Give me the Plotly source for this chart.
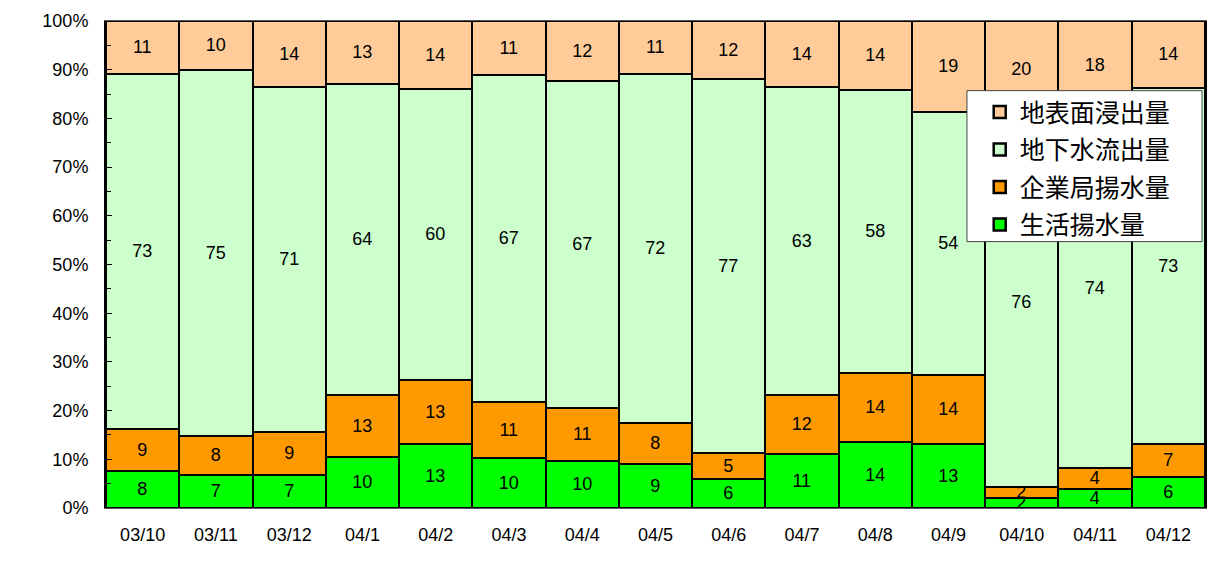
import plotly.graph_objects as go

months = ["03/10", "03/11", "03/12", "04/1", "04/2", "04/3", "04/4", "04/5",
          "04/6", "04/7", "04/8", "04/9", "04/10", "04/11", "04/12"]

# shares (%), bottom to top of each stack
domestic_pumping = [7.5, 6.7, 6.7, 10.4, 13.1, 10.3, 9.6, 9.1, 5.9, 11.1, 13.6, 13.1, 2.0, 3.9, 6.4]
company_pumping = [8.8, 8.0, 8.9, 12.8, 13.2, 11.4, 10.9, 8.4, 5.4, 12.2, 14.2, 14.3, 2.4, 4.3, 6.8]
groundwater_outflow = [72.8, 75.2, 70.8, 63.9, 59.7, 67.2, 67.1, 71.6, 76.7, 63.1, 58.1, 54.0, 75.6, 73.8, 73.0]
surface_seepage = [10.9, 10.1, 13.6, 12.9, 14.0, 11.1, 12.4, 10.9, 12.0, 13.6, 14.1, 18.6, 20.0, 18.0, 13.8]

series = [
    ("生活揚水量", domestic_pumping, "#00FF00"),
    ("企業局揚水量", company_pumping, "#FF9900"),
    ("地下水流出量", groundwater_outflow, "#CCFFCC"),
    ("地表面浸出量", surface_seepage, "#FFCC99"),
]

fig = go.Figure()

for i, (name, values, color) in enumerate(series):
    fig.add_trace(
        go.Bar(
            x=months,
            y=values,
            name=name,
            legendgroup=f"g{i}",
            legendrank=len(series) - i,  # top of stack first in the legend
            marker=dict(color=color, line=dict(color="black", width=2.5)),
            text=[f"{round(v):d}" for v in values],
            textposition="inside",
            insidetextanchor="middle",
            constraintext="none",
            textangle=0,
            textfont=dict(family="Liberation Sans, Arial", size=18, color="black"),
        )
    )

# white box behind the legend (drawn as a shape so it can be wider than the text)
fig.add_shape(
    type="rect",
    xref="paper",
    yref="paper",
    x0=0.7834,
    x1=0.9973,
    y0=0.547,
    y1=0.857,
    fillcolor="white",
    line=dict(color="#444", width=1),
    layer="above",
)

# page body has an 8px margin, so the figure is sized to fit inside the window
fig.update_layout(
    barmode="stack",
    bargap=0,
    width=1216,
    height=555,
    plot_bgcolor="white",
    paper_bgcolor="white",
    margin=dict(l=98, r=19, t=13, b=55),
    font=dict(family="Liberation Sans, Arial", size=18, color="black"),
    legend=dict(
        x=0.795,
        y=0.860,
        xanchor="left",
        yanchor="top",
        traceorder="grouped",
        tracegroupgap=2,
        bgcolor="rgba(0,0,0,0)",
        borderwidth=0,
        font=dict(family="Noto Sans CJK JP", size=25, color="black"),
    ),
    xaxis=dict(
        showline=True,
        linecolor="#555",
        linewidth=1,
        mirror=True,
        ticks="",
        ticklabelstandoff=10,
        tickfont=dict(size=18),
        automargin=False,
    ),
    yaxis=dict(
        range=[0, 100],
        tickvals=[0, 10, 20, 30, 40, 50, 60, 70, 80, 90, 100],
        ticktext=["0%", "10%", "20%", "30%", "40%", "50%", "60%", "70%", "80%", "90%", "100%"],
        showgrid=False,
        showline=True,
        linecolor="black",
        linewidth=2,
        mirror=True,
        ticks="inside",
        ticklen=6,
        tickcolor="black",
        ticklabelstandoff=12,
        minor=dict(tickvals=[5, 15, 25, 35, 45, 55, 65, 75, 85, 95], ticks="inside", ticklen=5, tickcolor="black"),
        tickfont=dict(size=18),
        automargin=False,
    ),
)

fig.write_html("out.html")
